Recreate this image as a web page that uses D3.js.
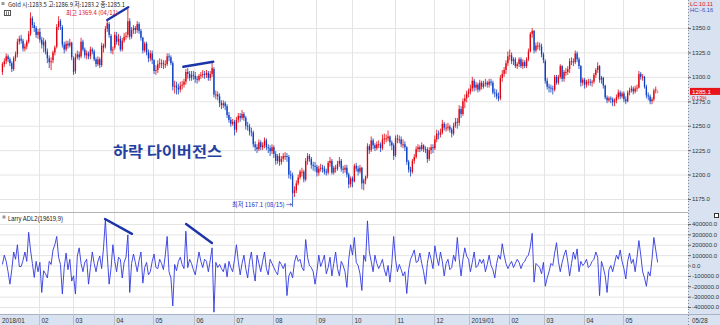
<!DOCTYPE html>
<html>
<head>
<meta charset="utf-8">
<script src="https://cdn.jsdelivr.net/npm/d3@7"></script>
<style>
  body { margin: 0; background: #fff; }
  svg { display: block; font-family: 'Liberation Sans', Arial, sans-serif; }
</style>
</head>
<body>
<div id="chart"></div>
<script>
// month labels on the x axis and trading days per month
const monthLabels = ['2018/01', '02', '03', '04', '05', '06', '07', '08', '09', '10', '11', '12', '2019/01', '02', '03', '04', '05'];
const monthDays = [20, 18, 22, 21, 22, 21, 21, 23, 19, 23, 21, 19, 21, 19, 21, 21, 19];

// daily Gold futures OHLC (one line per month)
const opens = [
  1305, 1313, 1316, 1321, 1318, 1314, 1308, 1319, 1323, 1336, 1339, 1337, 1329, 1331, 1336, 1344, 1360, 1353, 1350, 1343,
  1346, 1338, 1332, 1336, 1326, 1319, 1315, 1317, 1325, 1331, 1351, 1357, 1351, 1333, 1328, 1334, 1332, 1335,
  1319, 1306, 1320, 1323, 1321, 1336, 1328, 1322, 1324, 1321, 1328, 1326, 1318, 1313, 1318, 1312, 1332, 1331, 1349, 1354, 1342, 1327,
  1330, 1342, 1336, 1339, 1328, 1337, 1341, 1343, 1357, 1341, 1348, 1350, 1348, 1354, 1347, 1340, 1327, 1334, 1325, 1319, 1324,
  1317, 1306, 1307, 1313, 1314, 1314, 1313, 1313, 1321, 1320, 1314, 1290, 1291, 1289, 1287, 1291, 1292, 1295, 1305, 1303, 1299, 1302,
  1301, 1298, 1297, 1301, 1302, 1303, 1302, 1304, 1299, 1303, 1308, 1282, 1282, 1280, 1273, 1271, 1273, 1270, 1261, 1256, 1252,
  1254, 1246, 1256, 1260, 1258, 1262, 1258, 1250, 1249, 1244, 1243, 1231, 1228, 1226, 1233, 1228, 1230, 1235, 1228, 1227, 1224,
  1228, 1221, 1214, 1219, 1213, 1216, 1219, 1219, 1218, 1200, 1199, 1181, 1184, 1191, 1197, 1203, 1203, 1195, 1214, 1219, 1216, 1210, 1209,
  1208, 1202, 1206, 1207, 1206, 1203, 1202, 1212, 1214, 1202, 1207, 1206, 1211, 1214, 1206, 1205, 1207, 1200, 1190,
  1196, 1193, 1209, 1206, 1203, 1207, 1191, 1194, 1198, 1229, 1225, 1235, 1230, 1227, 1231, 1231, 1227, 1236, 1237, 1237, 1239, 1233, 1230,
  1220, 1237, 1236, 1236, 1231, 1231, 1228, 1213, 1205, 1203, 1214, 1218, 1226, 1228, 1226, 1230, 1226, 1226, 1216, 1225, 1228,
  1227, 1236, 1242, 1241, 1243, 1252, 1248, 1248, 1249, 1246, 1242, 1250, 1254, 1253, 1267, 1262, 1275, 1278, 1283,
  1285, 1288, 1296, 1289, 1292, 1287, 1294, 1290, 1293, 1294, 1292, 1295, 1294, 1284, 1283, 1280, 1278, 1299, 1303, 1307, 1314,
  1321, 1322, 1316, 1318, 1311, 1313, 1318, 1311, 1315, 1311, 1318, 1326, 1344, 1347, 1327, 1332, 1332, 1331, 1323,
  1316, 1296, 1290, 1289, 1288, 1287, 1300, 1294, 1300, 1311, 1298, 1305, 1305, 1308, 1316, 1316, 1315, 1324, 1318, 1311, 1294,
  1297, 1292, 1295, 1295, 1294, 1295, 1302, 1307, 1311, 1297, 1299, 1291, 1279, 1276, 1278, 1277, 1274, 1276, 1279, 1284, 1280,
  1283, 1277, 1275, 1284, 1286, 1288, 1285, 1288, 1289, 1303, 1300, 1300, 1290, 1281, 1280, 1275, 1277, 1286, 1283.5
];
const highs = [
  1315, 1319, 1324, 1323, 1320, 1316, 1321, 1326, 1339, 1342, 1343, 1339, 1334, 1338, 1347, 1366, 1362, 1356, 1352, 1349,
  1350, 1341, 1340, 1338, 1329, 1322, 1320, 1327, 1332, 1354, 1362, 1359, 1353, 1336, 1337, 1337, 1339, 1336,
  1321, 1324, 1327, 1326, 1340, 1338, 1330, 1327, 1326, 1331, 1330, 1328, 1320, 1321, 1320, 1335, 1334, 1352, 1358, 1356, 1344, 1331,
  1346, 1346, 1344, 1342, 1340, 1345, 1346, 1369.4, 1360, 1351, 1353, 1352, 1357, 1356, 1349, 1341, 1336, 1336, 1328, 1327, 1327,
  1318, 1312, 1317, 1319, 1318, 1317, 1317, 1324, 1324, 1322, 1316, 1296, 1295, 1293, 1295, 1296, 1298, 1308, 1309, 1306, 1306, 1306,
  1305, 1301, 1303, 1305, 1307, 1306, 1307, 1306, 1306, 1314, 1310, 1286, 1285, 1283, 1276, 1276, 1275, 1272, 1264, 1259, 1257,
  1256, 1259, 1263, 1263, 1266, 1264, 1260, 1254, 1252, 1248, 1245, 1234, 1231, 1236, 1235, 1233, 1238, 1237, 1231, 1230, 1231,
  1230, 1224, 1221, 1222, 1219, 1222, 1223, 1222, 1220, 1204, 1202, 1188, 1194, 1200, 1205, 1207, 1205, 1217, 1222, 1221, 1218, 1213, 1213,
  1210, 1209, 1211, 1210, 1209, 1206, 1214, 1218, 1216, 1209, 1210, 1214, 1218, 1216, 1209, 1210, 1210, 1202, 1198,
  1198, 1211, 1212, 1209, 1210, 1208, 1196, 1199, 1232, 1231, 1239, 1237, 1232, 1234, 1235, 1233, 1241, 1242, 1241, 1245, 1240, 1235, 1232,
  1240, 1241, 1240, 1239, 1236, 1234, 1229, 1215, 1208, 1216, 1221, 1229, 1231, 1230, 1233, 1231, 1229, 1228, 1228, 1231, 1231,
  1240, 1246, 1245, 1247, 1256, 1254, 1252, 1253, 1251, 1248, 1253, 1258, 1258, 1271, 1270, 1278, 1282, 1286, 1288,
  1292, 1300, 1298, 1295, 1294, 1297, 1296, 1296, 1298, 1296, 1298, 1298, 1296, 1288, 1287, 1284, 1302, 1307, 1310, 1317, 1326,
  1328, 1325, 1320, 1320, 1315, 1320, 1320, 1318, 1317, 1320, 1329, 1346, 1350, 1348, 1335, 1336, 1335, 1334, 1325,
  1318, 1299, 1293, 1292, 1291, 1302, 1302, 1302, 1313, 1312, 1307, 1309, 1311, 1319, 1320, 1319, 1327, 1326, 1320, 1312, 1299,
  1299, 1297, 1298, 1298, 1297, 1304, 1309, 1315, 1312, 1301, 1300, 1292, 1281, 1280, 1280, 1279, 1278, 1282, 1287, 1286, 1285,
  1285, 1280, 1286, 1289, 1291, 1290, 1291, 1292, 1306, 1305, 1303, 1301, 1292, 1284, 1282, 1279, 1288, 1290, 1286.9
];
const lows = [
  1302, 1310, 1313, 1315, 1311, 1305, 1306, 1316, 1320, 1333, 1334, 1326, 1326, 1328, 1334, 1342, 1350, 1346, 1340, 1339,
  1335, 1329, 1325, 1323, 1314, 1309, 1307, 1314, 1322, 1329, 1348, 1348, 1330, 1324, 1326, 1329, 1330, 1317,
  1302, 1303, 1318, 1317, 1319, 1326, 1319, 1318, 1318, 1318, 1323, 1316, 1310, 1311, 1309, 1310, 1325, 1329, 1346, 1340, 1324, 1323,
  1328, 1333, 1332, 1326, 1326, 1335, 1338, 1340, 1338, 1339, 1344, 1344, 1345, 1344, 1337, 1324, 1325, 1322, 1315, 1316, 1313,
  1303, 1302, 1304, 1309, 1309, 1308, 1309, 1311, 1316, 1312, 1286, 1283, 1282, 1282, 1284, 1287, 1289, 1292, 1298, 1296, 1296, 1297,
  1294, 1293, 1295, 1298, 1299, 1298, 1299, 1296, 1296, 1300, 1279, 1277, 1276, 1269, 1267, 1268, 1266, 1258, 1253, 1249, 1250,
  1240, 1243, 1253, 1254, 1256, 1255, 1246, 1245, 1240, 1239, 1228, 1224, 1222, 1224, 1225, 1225, 1227, 1225, 1222, 1219, 1221,
  1217, 1210, 1211, 1209, 1210, 1213, 1215, 1213, 1196, 1195, 1167.1, 1177, 1181, 1189, 1195, 1198, 1192, 1193, 1210, 1213, 1206, 1204, 1203,
  1198, 1199, 1203, 1202, 1200, 1199, 1200, 1208, 1200, 1200, 1202, 1204, 1208, 1203, 1201, 1202, 1197, 1186, 1187,
  1187, 1192, 1203, 1199, 1201, 1185, 1184, 1190, 1196, 1221, 1223, 1226, 1224, 1225, 1227, 1223, 1225, 1231, 1233, 1234, 1229, 1225, 1215,
  1218, 1232, 1232, 1228, 1227, 1224, 1210, 1202, 1198, 1201, 1211, 1216, 1223, 1223, 1224, 1223, 1222, 1212, 1214, 1221, 1222,
  1225, 1233, 1236, 1238, 1241, 1245, 1244, 1245, 1243, 1238, 1240, 1248, 1247, 1250, 1258, 1260, 1268, 1274, 1279,
  1282, 1285, 1285, 1286, 1284, 1285, 1287, 1288, 1290, 1289, 1289, 1291, 1282, 1279, 1277, 1275, 1276, 1295, 1300, 1303, 1311,
  1317, 1313, 1312, 1309, 1308, 1310, 1309, 1308, 1309, 1309, 1316, 1325, 1340, 1324, 1325, 1328, 1327, 1320, 1314,
  1293, 1287, 1284, 1284, 1282, 1285, 1292, 1292, 1298, 1295, 1295, 1301, 1302, 1304, 1312, 1311, 1313, 1315, 1308, 1290, 1291,
  1288, 1289, 1291, 1291, 1290, 1293, 1299, 1304, 1294, 1293, 1288, 1277, 1273, 1274, 1273, 1270, 1270, 1273, 1277, 1277, 1278,
  1274, 1272, 1274, 1281, 1284, 1282, 1283, 1285, 1288, 1297, 1296, 1288, 1278, 1276, 1272, 1272, 1275, 1283, 1283.2
];
const closes = [
  1313, 1316, 1321, 1318, 1314, 1308, 1319, 1323, 1336, 1339, 1337, 1329, 1331, 1336, 1344, 1360, 1353, 1350, 1343, 1346,
  1338, 1333, 1336, 1326, 1319, 1315, 1316, 1325, 1330, 1351, 1357, 1352, 1333, 1328, 1334, 1332, 1335, 1320,
  1305, 1320, 1323, 1320, 1336, 1328, 1322, 1324, 1321, 1328, 1326, 1318, 1313, 1318, 1312, 1332, 1330, 1349, 1355, 1343, 1327, 1328,
  1343, 1336, 1339, 1328, 1337, 1341, 1342, 1357, 1341, 1348, 1350, 1348, 1354, 1347, 1340, 1327, 1334, 1325, 1319, 1324, 1317,
  1306, 1307, 1313, 1314, 1314, 1313, 1313, 1321, 1320, 1314, 1290, 1291, 1289, 1287, 1291, 1292, 1295, 1305, 1303, 1299, 1302, 1301,
  1298, 1297, 1301, 1302, 1303, 1302, 1304, 1299, 1303, 1309, 1282, 1282, 1280, 1273, 1271, 1273, 1270, 1261, 1256, 1252, 1254,
  1246, 1256, 1260, 1258, 1262, 1258, 1250, 1249, 1244, 1243, 1231, 1228, 1226, 1233, 1228, 1230, 1235, 1228, 1227, 1224, 1228,
  1221, 1214, 1219, 1213, 1216, 1219, 1219, 1218, 1200, 1199, 1181, 1184, 1191, 1197, 1203, 1203, 1195, 1214, 1219, 1216, 1210, 1209, 1208,
  1202, 1206, 1207, 1206, 1203, 1202, 1212, 1214, 1202, 1207, 1206, 1211, 1214, 1206, 1205, 1207, 1200, 1190, 1196,
  1193, 1209, 1206, 1203, 1207, 1191, 1194, 1198, 1229, 1225, 1235, 1230, 1227, 1231, 1231, 1227, 1236, 1237, 1237, 1239, 1233, 1230, 1219,
  1237, 1236, 1236, 1231, 1231, 1228, 1213, 1205, 1203, 1214, 1218, 1226, 1228, 1226, 1230, 1226, 1226, 1216, 1225, 1228, 1227,
  1236, 1242, 1241, 1243, 1252, 1248, 1248, 1249, 1246, 1242, 1250, 1254, 1253, 1267, 1262, 1275, 1278, 1283, 1285,
  1288, 1296, 1289, 1292, 1287, 1294, 1290, 1293, 1294, 1292, 1295, 1294, 1284, 1283, 1280, 1278, 1299, 1303, 1307, 1314, 1321,
  1322, 1316, 1318, 1311, 1313, 1318, 1311, 1315, 1311, 1318, 1326, 1344, 1347, 1327, 1332, 1332, 1331, 1323, 1317,
  1296, 1290, 1289, 1288, 1287, 1300, 1294, 1300, 1311, 1298, 1305, 1305, 1308, 1316, 1316, 1315, 1324, 1318, 1311, 1294, 1297,
  1292, 1295, 1295, 1294, 1295, 1302, 1307, 1311, 1297, 1299, 1291, 1279, 1276, 1278, 1277, 1274, 1276, 1279, 1284, 1280, 1283,
  1277, 1275, 1284, 1286, 1288, 1285, 1288, 1289, 1303, 1300, 1300, 1290, 1281, 1280, 1275, 1277, 1286, 1287, 1285.1
];

// Larry ADL2(19619,9), in thousands
const adlK = [
  10, 100, 40, -60, -180, -40, 130, 60, 200, -10, -10, 50, 130, 40, 320, 150, 20, -115, 40, -60,
  30, -260, -50, -80, -120, 40, 10, 150, 200, 280, 80, 10, -275, -20, 120, -40, 60, -150,
  -100, -275, 90, 170, 20, -60, 30, 60, -180, -20, 130, 20, -60, 40, 90, -30, 170, 440, 100, -180, -30, 200,
  40, -60, 80, 60, -120, 30, 80, 295, -260, 20, 110, 30, -60, 50, 130, -170, -20, 30, -90, -60, 40,
  110, -20, -30, 60, 20, -40, 100, 280, -60, -120, -390, 10, -50, 40, 80, 10, -30, 330, -20, 60, 20, -40,
  -90, 20, 130, 40, -20, 60, 40, -60, 50, 170, -450, 30, -20, 10, -30, -60, 20, -110, 40, -20, -60,
  60, 200, 40, -90, 20, 100, -30, -120, 40, 130, -40, -150, 100, 20, -60, 40, 130, -30, -90, 60, 20,
  -20, -60, -90, 40, 10, -30, 20, -290, -100, -60, -120, 30, 100, 40, 60, -20, -50, 250, 80, 0, -20, -60, -180,
  -60, 100, -10, 40, 100, -80, -20, 80, -100, 20, 130, -30, -100, 40, 0, -60, -210, 60, 200,
  100, 270, 30, 0, -80, -240, 100, 40, 430, 130, 40, -60, 100, 20, -30, 10, 60, -40, -100, 0, -160, 20, 280,
  60, -60, 10, -40, -100, -60, -270, -40, 60, 100, 150, 30, 40, 120, 20, -60, -180, 20, 130, 60, -30,
  190, 80, 0, 130, 40, -100, 20, 60, -40, -20, 100, 40, 270, 60, -100, 60, 170, 90, 60,
  -60, 30, 130, -20, 0, 60, 20, 60, -60, 10, 100, 0, -40, -120, 20, 100, 60, 210, 100, 20, -30,
  10, 40, -20, 20, 60, 30, -30, 20, 40, 80, 100, 180, 310, -160, 20, 0, -20, -80, 30,
  -200, -120, -60, 20, 0, 120, 220, 40, -60, 30, 100, 150, 40, -100, 20, 130, 60, 160, -60, 40, 0,
  20, 60, -20, 0, 40, 60, 130, 80, -290, 40, -20, -100, -260, -40, 0, -60, 20, 100, 60, 150, 40,
  -30, -130, 40, 120, 20, 60, -60, 80, 240, 100, -60, -120, -200, -60, -100, 60, 270, 150, 30
];

const priceTicks = [1175, 1200, 1225, 1250, 1275, 1300, 1325, 1350];
const adlTicks = [-400000, -300000, -200000, -100000, 0, 100000, 200000, 300000, 400000];

// hand drawn divergence lines: [day index, value] pairs
const priceDivergence = [[[56.5, 1358.2], [67.7, 1371.2]], [[97.1, 1310.4], [113.1, 1315.5]]];
const adlDivergence = [[[55.3, 448000], [69.7, 305000]], [[98.6, 400000], [112.4, 217000]]];

const width = 720, height = 325;
const plotRight = 688;
const priceBottom = 212;
const adlTop = 213, adlBottom = 314;
const slotCount = 367;
const axisBg = '#d8e2f0';
const gridColor = '#e4e4e4';

const svg = d3.select('#chart').append('svg')
  .attr('width', width)
  .attr('height', height);

svg.append('defs').html(`
  <clipPath id="priceClip"><rect x="0" y="0" width="${plotRight}" height="${priceBottom}"/></clipPath>
  <clipPath id="adlClip"><rect x="0" y="${adlTop}" width="${plotRight}" height="${adlBottom - adlTop}"/></clipPath>
`);

svg.append('rect').attr('width', width).attr('height', height).attr('fill', '#fff');
svg.append('rect')
  .attr('x', plotRight).attr('y', 0)
  .attr('width', width - plotRight).attr('height', height)
  .attr('fill', axisBg);
svg.append('rect')
  .attr('x', 0).attr('y', adlBottom)
  .attr('width', width).attr('height', height - adlBottom)
  .attr('fill', axisBg);

const candles = closes.map((c, i) => ({
  i: i,
  o: opens[i], h: highs[i], l: lows[i], c: c,
  prev: i ? closes[i - 1] : opens[i]
}));
const adl = adlK.map(v => v * 1000);
const monthStarts = Array.from(d3.cumsum([0].concat(monthDays))).slice(0, monthDays.length);

const x = d3.scaleLinear().domain([0, slotCount]).range([1.5, plotRight + 0.5]);
const yPrice = d3.scaleLinear().domain([1175, 1350]).range([199, 28]);
const yAdl = d3.scaleLinear().domain([-400000, 400000]).range([307, 224]);

// horizontal grid
svg.append('g')
  .attr('transform', `translate(${plotRight},0)`)
  .call(d3.axisLeft(yPrice).tickValues(priceTicks).tickSize(plotRight).tickFormat(''))
  .call(g => g.select('.domain').remove())
  .call(g => g.selectAll('line').attr('stroke', gridColor));
svg.append('g')
  .attr('transform', `translate(${plotRight},0)`)
  .call(d3.axisLeft(yAdl).tickValues(adlTicks).tickSize(plotRight).tickFormat(''))
  .call(g => g.select('.domain').remove())
  .call(g => g.selectAll('line').attr('stroke', gridColor));

// vertical month grid
svg.append('g')
  .selectAll('line')
  .data(monthStarts.slice(1))
  .join('line')
  .attr('x1', d => Math.round(x(d)) + 0.5)
  .attr('x2', d => Math.round(x(d)) + 0.5)
  .attr('y1', 0)
  .attr('y2', adlBottom)
  .attr('stroke', gridColor);

// panel borders
svg.append('line')
  .attr('x1', 0).attr('x2', plotRight)
  .attr('y1', priceBottom + 0.5).attr('y2', priceBottom + 0.5)
  .attr('stroke', '#b4b4b4');
svg.append('line')
  .attr('x1', 0).attr('x2', width)
  .attr('y1', adlBottom + 0.5).attr('y2', adlBottom + 0.5)
  .attr('stroke', '#a8b2c2');
svg.append('line')
  .attr('x1', plotRight + 0.5).attr('x2', plotRight + 0.5)
  .attr('y1', 0).attr('y2', height)
  .attr('stroke', '#8a8a8a')
  .attr('stroke-dasharray', '1,2');

// x axis labels and separators
svg.append('g')
  .selectAll('line')
  .data(monthStarts.slice(1))
  .join('line')
  .attr('x1', d => Math.round(x(d)) + 0.5)
  .attr('x2', d => Math.round(x(d)) + 0.5)
  .attr('y1', adlBottom)
  .attr('y2', height)
  .attr('stroke', '#b8c0cc');
svg.append('g')
  .selectAll('text')
  .data(monthStarts)
  .join('text')
  .attr('x', (d, i) => i ? Math.round(x(d)) + 2.5 : 2)
  .attr('y', 323)
  .attr('font-size', '6.3px')
  .attr('fill', '#333')
  .text((d, i) => monthLabels[i]);
svg.append('text')
  .attr('x', 692).attr('y', 323)
  .attr('font-size', '6.3px')
  .attr('fill', '#333')
  .text('05/28');

// right axes
svg.append('g')
  .attr('transform', `translate(${plotRight},0)`)
  .call(d3.axisRight(yPrice).tickValues(priceTicks).tickSize(3).tickPadding(1).tickFormat(d => d.toFixed(1)))
  .call(g => g.select('.domain').remove())
  .call(g => g.selectAll('line').attr('stroke', '#666'))
  .call(g => g.selectAll('text').attr('font-size', '6px').attr('fill', '#333').attr('font-family', 'Liberation Sans'));
svg.append('g')
  .attr('transform', `translate(${plotRight},0)`)
  .call(d3.axisRight(yAdl).tickValues(adlTicks).tickSize(3).tickPadding(1).tickFormat(d => d.toFixed(1)))
  .call(g => g.select('.domain').remove())
  .call(g => g.selectAll('line').attr('stroke', '#666'))
  .call(g => g.selectAll('text').attr('font-size', '6px').attr('fill', '#333').attr('font-family', 'Liberation Sans'));

// candles
function candleColor(d) {
  const up = d.c >= d.o;
  const strong = up ? d.c >= d.prev : d.c <= d.prev;
  if (up) return strong ? '#e2000c' : '#f08c8e';
  return strong ? '#0a3ec6' : '#86a8e6';
}

const candle = svg.append('g')
  .attr('clip-path', 'url(#priceClip)')
  .selectAll('g')
  .data(candles)
  .join('g');

candle.append('line')
  .attr('x1', d => x(d.i + 0.5))
  .attr('x2', d => x(d.i + 0.5))
  .attr('y1', d => yPrice(Math.max(d.h, d.o, d.c)))
  .attr('y2', d => yPrice(Math.min(d.l, d.o, d.c)))
  .attr('stroke', candleColor)
  .attr('stroke-width', 0.8);

candle.append('rect')
  .attr('x', d => x(d.i + 0.5) - 0.65)
  .attr('width', 1.3)
  .attr('y', d => yPrice(Math.max(d.o, d.c)))
  .attr('height', d => Math.max(1, Math.abs(yPrice(d.o) - yPrice(d.c))))
  .attr('fill', candleColor);

// ADL line
svg.append('path')
  .datum(adl)
  .attr('clip-path', 'url(#adlClip)')
  .attr('fill', 'none')
  .attr('stroke', '#3038e0')
  .attr('stroke-width', 0.9)
  .attr('stroke-linejoin', 'round')
  .attr('d', d3.line().x((d, i) => x(i + 0.5)).y(d => yAdl(d)));

// divergence lines
svg.append('g')
  .selectAll('line')
  .data(priceDivergence)
  .join('line')
  .attr('x1', d => x(d[0][0])).attr('y1', d => yPrice(d[0][1]))
  .attr('x2', d => x(d[1][0])).attr('y2', d => yPrice(d[1][1]))
  .attr('stroke', '#1b34a8')
  .attr('stroke-width', 2.4)
  .attr('stroke-linecap', 'round');
svg.append('g')
  .selectAll('line')
  .data(adlDivergence)
  .join('line')
  .attr('x1', d => x(d[0][0])).attr('y1', d => yAdl(d[0][1]))
  .attr('x2', d => x(d[1][0])).attr('y2', d => yAdl(d[1][1]))
  .attr('stroke', '#1b34a8')
  .attr('stroke-width', 2.4)
  .attr('stroke-linecap', 'round');

// texts
const kr = "'Noto Sans CJK KR', 'Liberation Sans', sans-serif";
const last = candles[candles.length - 1];

svg.append('rect').attr('x', 1.5).attr('y', 2).attr('width', 3).attr('height', 3).attr('fill', '#999');
svg.append('text')
  .attr('x', 8).attr('y', 7)
  .attr('font-family', kr).attr('font-size', '6.3px').attr('fill', '#222')
  .attr('textLength', 117).attr('lengthAdjust', 'spacingAndGlyphs')
  .text(`Gold 시:${last.o.toFixed(1)} 고:${last.h.toFixed(1)} 저:${last.l.toFixed(1)} 종:${last.c.toFixed(1)}`);

svg.append('rect').attr('x', 4.5).attr('y', 10.5).attr('width', 6).attr('height', 5)
  .attr('fill', '#fff').attr('stroke', '#555');
svg.append('path').attr('d', 'M6.5,11.5V15M8.5,11.5V15').attr('stroke', '#555').attr('stroke-width', 0.8);

const hiIdx = d3.maxIndex(highs);
const loIdx = d3.minIndex(lows);

svg.append('text')
  .attr('x', 118).attr('y', 15)
  .attr('text-anchor', 'end')
  .attr('font-family', kr).attr('font-size', '6px').attr('fill', '#e0101a')
  .attr('textLength', 52).attr('lengthAdjust', 'spacingAndGlyphs')
  .text(`최고 ${highs[hiIdx].toFixed(1)} (04/11)`);

svg.append('text')
  .attr('x', x(loIdx + 0.5) - 0.5).attr('y', 207)
  .attr('text-anchor', 'end')
  .attr('font-family', kr).attr('font-size', '6.3px').attr('fill', '#1a2fc0')
  .attr('textLength', 60).attr('lengthAdjust', 'spacingAndGlyphs')
  .text(`최저 ${lows[loIdx].toFixed(1)} (08/15) →`);

svg.append('text')
  .attr('x', 113).attr('y', 156.5)
  .attr('font-family', kr).attr('font-size', '15px').attr('font-weight', 'bold').attr('fill', '#2441a2')
  .attr('textLength', 109).attr('lengthAdjust', 'spacingAndGlyphs')
  .text('하락 다이버전스');

svg.append('rect').attr('x', 2.5).attr('y', 215.5).attr('width', 3).attr('height', 3).attr('fill', '#999');
svg.append('text')
  .attr('x', 8).attr('y', 220.5)
  .attr('font-size', '6.6px').attr('fill', '#222')
  .attr('textLength', 55).attr('lengthAdjust', 'spacingAndGlyphs')
  .text('Larry ADL2(19619,9)');

svg.append('text')
  .attr('x', 690).attr('y', 5.5)
  .attr('font-size', '5.8px').attr('fill', '#e0101a')
  .text('LC:10.11');
svg.append('text')
  .attr('x', 690).attr('y', 11.5)
  .attr('font-size', '5.8px').attr('fill', '#2a55c8')
  .text('HC:-6.16');

// last price marker
svg.append('rect')
  .attr('x', 690).attr('y', yPrice(last.c) - 3.5)
  .attr('width', 30).attr('height', 7)
  .attr('fill', '#e8141c');
svg.append('text')
  .attr('x', 692).attr('y', yPrice(last.c) + 2.3)
  .attr('font-size', '6.2px').attr('fill', '#fff')
  .text(last.c.toFixed(1));
svg.append('text')
  .attr('x', 692).attr('y', yPrice(last.c) + 8.3)
  .attr('font-size', '5.2px').attr('fill', '#e0101a')
  .text('0.13%');

svg.append('rect').attr('x', 714.5).attr('y', 213.5).attr('width', 4).attr('height', 4)
  .attr('fill', '#fff').attr('stroke', '#333');

if (d3.sum(monthDays) !== closes.length || opens.length !== closes.length || highs.length !== closes.length || lows.length !== closes.length || adlK.length !== closes.length) {
  svg.append('text').attr('x', 300).attr('y', 100).attr('fill', 'magenta').attr('font-size', '12px')
    .text(`len ${d3.sum(monthDays)} ${opens.length} ${highs.length} ${lows.length} ${closes.length} ${adlK.length}`);
}
</script>
</body>
</html>
